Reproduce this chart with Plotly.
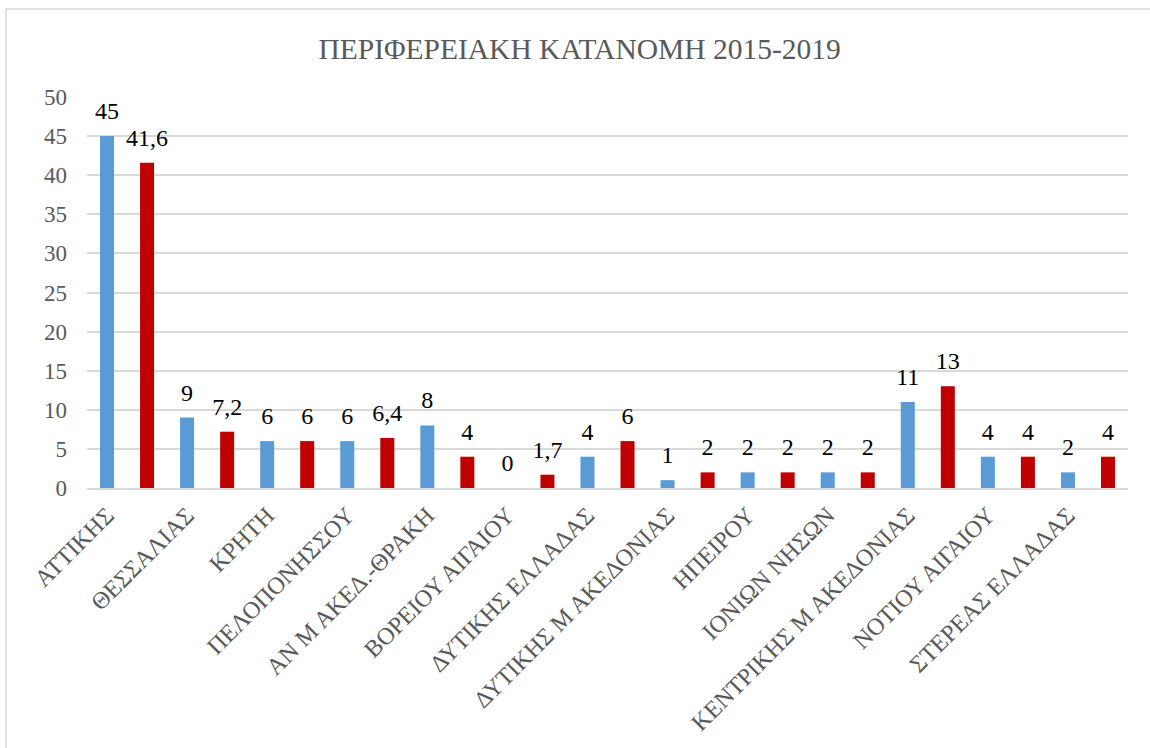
import plotly.graph_objects as go

regions = ["ΑΤΤΙΚΗΣ", "ΘΕΣΣΑΛΙΑΣ", "ΚΡΗΤΗ", "ΠΕΛΟΠΟΝΗΣΣΟΥ", "ΑΝ Μ ΑΚΕΔ.-ΘΡΑΚΗ",
           "ΒΟΡΕΙΟΥ ΑΙΓΑΙΟΥ", "ΔΥΤΙΚΗΣ ΕΛΛΑΔΑΣ", "ΔΥΤΙΚΗΣ Μ ΑΚΕΔΟΝΙΑΣ", "ΗΠΕΙΡΟΥ",
           "ΙΟΝΙΩΝ ΝΗΣΩΝ", "ΚΕΝΤΡΙΚΗΣ Μ ΑΚΕΔΟΝΙΑΣ", "ΝΟΤΙΟΥ ΑΙΓΑΙΟΥ", "ΣΤΕΡΕΑΣ ΕΛΛΑΔΑΣ"]
values = [45, 41.6, 9, 7.2, 6, 6, 6, 6.4, 8, 4, 0, 1.7, 4, 6, 1, 2, 2, 2, 2, 2, 11, 13, 4, 4, 2, 4]
bar_colors = ["#5B9BD5", "#C00000"] * 13
tick_positions = list(range(0, 26, 2))
y_ticks = list(range(0, 55, 5))

FONT = "'Liberation Serif', 'Times New Roman', serif"

def fmt(v):
    s = f"{v:g}"
    return s.replace(".", ",")

xs = list(range(len(values)))

fig = go.Figure()
fig.add_trace(go.Bar(
    x=xs,
    y=values,
    marker=dict(color=bar_colors, line=dict(width=0)),
    width=0.35,
    showlegend=False,
    hoverinfo="x+y",
))
# data labels, offset above bar tops by an invisible marker
fig.add_trace(go.Scatter(
    x=xs,
    y=values,
    mode="markers+text",
    marker=dict(size=16, opacity=0),
    text=[fmt(v) for v in values],
    textposition="top center",
    textfont=dict(family=FONT, size=24, color="#000000"),
    cliponaxis=False,
    showlegend=False,
    hoverinfo="skip",
))

fig.update_layout(
    width=1150, height=748,
    font=dict(family=FONT),
    paper_bgcolor="white", plot_bgcolor="white",
    margin=dict(l=87, r=22, t=97, b=260),
    title=dict(text="ΠΕΡΙΦΕΡΕΙΑΚΗ ΚΑΤΑΝΟΜΗ 2015-2019",
               font=dict(family=FONT, size=29.5, color="#595959"),
               x=0.504, xanchor="center", y=1 - 49 / 748, yanchor="middle",
               xref="container", yref="container"),
    bargap=0.65,
)
fig.update_xaxes(
    range=[-0.5, 25.5],
    tickmode="array", tickvals=tick_positions, ticktext=regions,
    tickangle=-45, tickfont=dict(family=FONT, size=24, color="#595959"),
    showgrid=False, zeroline=False,
    showline=True, linecolor="#D9D9D9", linewidth=1.5,
    ticks="", ticklabelstandoff=2,
)
fig.update_yaxes(
    range=[0, 50],
    tickmode="array", tickvals=y_ticks,
    tickfont=dict(family=FONT, size=23, color="#595959"),
    showgrid=True, gridcolor="#D9D9D9", gridwidth=1.5,
    zeroline=False, showline=False, ticks="",
    ticklabelstandoff=19,
)
fig.add_shape(type="rect", xref="paper", yref="paper",
              x0=-0.0778, x1=1.023, y0=-0.68, y1=1.225,
              line=dict(color="#D9D9D9", width=1.5), layer="below")

fig.write_html("out.html", config={"displayModeBar": False},
               post_script="document.body.style.margin='0px';")
